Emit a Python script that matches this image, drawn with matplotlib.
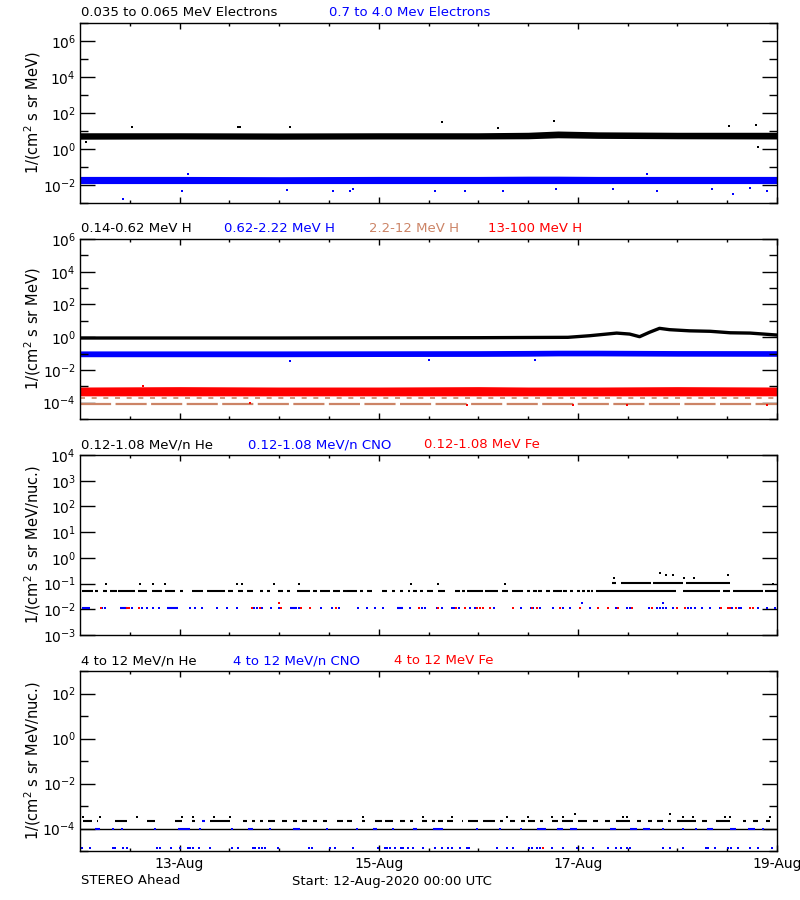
import numpy as np
import matplotlib
matplotlib.use("Agg")
import matplotlib.pyplot as plt
from matplotlib.ticker import FixedLocator, NullFormatter

# ---- data (time in days since 12-Aug-2020 00:00 UTC) ----
BLUE = "#0000FF"
RED = "#FF0000"
BROWN = "#CC8466"

# panel 1: electrons, dense bands given as lower/upper envelopes
t_band = [0, 1, 2, 3, 4, 4.5, 4.8, 5.2, 6, 7]
e_low_lo = [3.5, 3.6, 3.5, 3.6, 3.6, 3.7, 4.2, 3.9, 3.7, 3.6]
e_low_hi = [8.0, 8.0, 7.8, 8.0, 8.0, 8.5, 10.0, 9.0, 8.5, 8.5]
e_high_lo = [0.012, 0.012, 0.012, 0.012, 0.012, 0.012, 0.012, 0.012, 0.012, 0.012]
e_high_hi = [0.030, 0.030, 0.029, 0.030, 0.030, 0.031, 0.031, 0.030, 0.030, 0.030]
e_low_out_t = [0.06, 0.52, 1.59, 1.61, 2.11, 3.64, 4.20, 4.76, 6.52, 6.79, 6.81]
e_low_out_v = [2.5, 16.6, 16.6, 16.6, 16.0, 32.0, 15.0, 36.0, 19.0, 22.0, 1.3]
e_high_out_t = [0.43, 1.02, 1.08, 2.08, 2.54, 2.71, 2.74, 3.57, 3.87, 4.25, 4.78, 5.35, 5.69, 5.79, 6.35, 6.56, 6.73, 6.90]
e_high_out_v = [0.0017, 0.0047, 0.04, 0.0052, 0.0047, 0.0047, 0.0058, 0.0047, 0.0047, 0.0047,
                0.0059, 0.0063, 0.042, 0.0047, 0.0059, 0.0032, 0.0065, 0.0047]

# panel 2: protons
t_h1 = [0, 1, 2, 3, 4, 4.9, 5.12, 5.39, 5.52, 5.62, 5.72, 5.82, 5.92, 6.12, 6.33, 6.53, 6.73, 7.0]
h1 = [0.89, 0.89, 0.89, 0.91, 0.93, 0.98, 1.23, 1.78, 1.55, 1.07, 2.0, 3.47, 2.88, 2.45, 2.29, 1.86, 1.78, 1.35]
h2_lo = [0.064, 0.064, 0.064, 0.066, 0.067, 0.069, 0.072, 0.072, 0.069, 0.068]
h2_hi = [0.145, 0.145, 0.145, 0.147, 0.150, 0.155, 0.160, 0.160, 0.152, 0.150]
h2_out_t = [2.11, 3.51, 4.57]
h2_out_v = [0.036, 0.040, 0.040]
h3_upper = 2.0e-4
h3_lower = 8.5e-5
h4_lo = [2.6e-4, 2.6e-4, 2.6e-4, 2.6e-4, 2.6e-4, 2.6e-4, 2.6e-4, 2.6e-4, 2.6e-4, 2.6e-4]
h4_hi = [9.0e-4, 9.5e-4, 9.0e-4, 9.0e-4, 9.5e-4, 9.0e-4, 9.0e-4, 9.0e-4, 9.5e-4, 9.0e-4]
h4_out_t = [0.63, 1.71, 3.89, 4.95, 5.49, 6.90]
h4_out_v = [1.07e-3, 9.0e-5, 7.2e-5, 7.2e-5, 7.2e-5, 7.6e-5]

# panel 3: 0.12-1.08 MeV/n heavy ions
he_lo_level = 0.053
he_lo_runs = [(0.017, 0.134), (0.151, 0.184), (0.234, 0.268), (0.301, 0.368), (0.385, 0.552), (0.586, 0.669),
              (0.720, 0.820), (0.853, 0.954), (1.004, 1.037), (1.121, 1.238), (1.272, 1.456), (1.489, 1.540),
              (1.590, 1.640), (1.673, 1.740), (1.807, 1.841), (1.874, 1.908), (1.991, 2.042), (2.075, 2.108),
              (2.175, 2.309), (2.343, 2.376), (2.410, 2.510), (2.544, 2.610), (2.644, 2.778), (2.811, 2.845),
              (2.878, 2.928), (3.029, 3.079), (3.129, 3.163), (3.213, 3.246), (3.297, 3.313), (3.347, 3.380),
              (3.414, 3.447), (3.481, 3.547), (3.598, 3.665), (3.765, 3.815), (3.832, 3.865), (3.882, 4.049),
              (4.066, 4.200), (4.234, 4.300), (4.334, 4.451), (4.485, 4.518), (4.551, 4.585), (4.602, 4.635),
              (4.685, 4.719), (4.752, 4.836), (4.853, 4.886), (4.920, 4.953), (4.987, 5.020), (5.037, 5.070),
              (5.087, 5.120), (5.137, 5.154), (5.187, 5.990), (6.057, 6.426), (6.459, 6.526), (6.560, 6.861),
              (6.878, 6.995)]
he_lo_high_runs = [(5.338, 5.388), (5.438, 5.739), (5.756, 6.057), (6.091, 6.525)]
he_lo_high_level = 0.107
he_lo_dot_t = [0.261, 0.602, 0.730, 0.853, 1.580, 1.623, 1.948, 2.199, 3.323, 3.598, 4.267, 6.961,
               5.36, 5.82, 5.89, 5.96, 6.07, 6.17, 6.51]
he_lo_dot_v = [0.1, 0.1, 0.1, 0.1, 0.1, 0.1, 0.1, 0.1, 0.1, 0.096, 0.096, 0.1,
               0.16, 0.26, 0.21, 0.21, 0.167, 0.167, 0.21]
cno_lo_level = 0.011
cno_lo_runs = [(0.017, 0.100), (0.402, 0.469), (0.870, 0.987), (2.108, 2.175), (3.179, 3.246)]
cno_lo_dot_t = [0.218, 0.251, 0.519, 0.619, 0.669, 0.730, 0.797, 1.104, 1.155, 1.222, 1.379, 1.473, 1.573,
                1.747, 1.774, 1.824, 1.914, 1.998, 2.199, 2.416, 2.533, 2.604, 2.795, 2.885, 2.962, 3.046,
                3.313, 3.430, 3.464, 3.581, 3.631, 3.732, 3.755, 3.809, 3.916, 3.966, 4.157, 4.434, 4.525,
                4.552, 4.618, 4.752, 4.853, 4.920, 5.120, 5.388, 5.495, 5.522, 5.716, 5.790, 5.823, 5.857,
                5.884, 5.957, 6.108, 6.141, 6.175, 6.242, 6.325, 6.426, 6.549, 6.620, 6.643, 6.811, 6.901, 6.978]
cno_lo_high_t = [5.037, 5.857]
cno_lo_high_v = [0.018, 0.018]
fe_lo_dot_t = [0.207, 0.475, 0.495, 0.592, 1.730, 1.807, 2.015, 2.216, 2.309, 2.567, 3.404, 3.598, 3.772,
               3.865, 3.989, 4.016, 4.043, 4.116, 4.351, 4.535, 4.585, 4.819, 5.020, 5.204, 5.305, 5.405,
               5.546, 5.740, 5.991, 6.074, 6.442, 6.503, 6.526, 6.593, 6.727, 6.760]
fe_lo_high_t = [1.998]
fe_lo_high_v = [0.018]

# panel 4: 4-12 MeV/n heavy ions
he_hi_base = 1.0e-4
he_hi_level = 2.2e-4
he_hi_runs = [(0.033, 0.117), (0.167, 0.184), (0.351, 0.469), (0.669, 0.753), (0.954, 1.021), (1.121, 1.155),
              (1.305, 1.506), (1.640, 1.673), (1.724, 1.757), (1.807, 1.841), (1.891, 1.958), (2.025, 2.075),
              (2.142, 2.175), (2.226, 2.276), (2.343, 2.376), (2.443, 2.477), (2.577, 2.644), (2.677, 2.728),
              (2.828, 2.862), (2.962, 3.029), (3.062, 3.146), (3.213, 3.263), (3.313, 3.347), (3.430, 3.481),
              (3.531, 3.564), (3.598, 3.648), (3.681, 3.748), (3.832, 3.849), (3.899, 3.999), (4.049, 4.167),
              (4.217, 4.250), (4.317, 4.367), (4.434, 4.468), (4.501, 4.568), (4.618, 4.652), (4.736, 4.803),
              (4.836, 4.953), (5.003, 5.087), (5.154, 5.204), (5.271, 5.321), (5.388, 5.522), (5.589, 5.639),
              (5.706, 5.740), (5.790, 5.857), (5.907, 5.940), (5.991, 6.191), (6.242, 6.292), (6.392, 6.526),
              (6.660, 6.693), (6.760, 6.811), (6.894, 6.928)]
he_hi_dot_t = [0.033, 0.201, 0.569, 1.027, 1.138, 1.349, 1.506, 2.845, 3.447, 3.732, 4.284, 4.501, 4.736,
               4.853, 5.455, 5.489, 6.058, 6.158, 6.476, 6.526, 6.928, 4.970, 5.924]
he_hi_dot_v = [3.2e-4] * 21 + [4.2e-4, 4.2e-4]
cno_hi_runs = [(0.151, 0.201), (0.987, 1.104), (1.690, 1.740), (2.142, 2.209), (2.945, 2.979), (3.347, 3.380),
               (3.547, 3.648), (4.585, 4.685), (4.786, 4.853), (4.920, 4.987), (5.321, 5.388), (5.522, 5.589),
               (5.656, 5.723), (6.292, 6.359), (6.526, 6.593), (6.710, 6.777)]
cno_hi_base_dot_t = [0.335, 0.418, 0.753, 1.205, 1.523, 1.908, 2.477, 2.778, 3.146, 3.983, 4.217, 4.434,
                     5.857, 6.058, 6.191, 6.861]
cno_hi_mid_runs = [(1.222, 1.255)]
cno_hi_low_level = 1.3e-5
cno_hi_low_t = [0.017, 0.100, 0.335, 0.351, 0.428, 0.469, 0.776, 0.803, 0.910, 1.004, 1.088, 1.104, 1.138,
                1.195, 1.305, 1.523, 1.590, 1.740, 1.757, 1.801, 1.824, 1.857, 1.991, 2.303, 2.326, 2.510,
                2.560, 2.744, 2.995, 3.062, 3.079, 3.112, 3.163, 3.220, 3.246, 3.297, 3.347, 3.447, 3.564,
                3.631, 3.698, 3.732, 3.815, 3.889, 3.909, 4.183, 4.284, 4.351, 4.511, 4.535, 4.592, 4.618,
                4.736, 4.853, 4.993, 5.054, 5.154, 5.305, 5.388, 5.438, 5.489, 5.522, 5.857, 5.924, 6.058,
                6.285, 6.309, 6.376, 6.509, 6.533, 6.610, 6.727, 6.811, 6.945]
fe_hi_low_t = [4.652]

# axis text
day_ticks = [1, 3, 5, 7]
day_labels = ["13-Aug", "15-Aug", "17-Aug", "19-Aug"]

# ---- figure ----
W, H = 800, 900
fig = plt.figure(figsize=(8, 9), dpi=100)
plt.rcParams["font.family"] = "DejaVu Sans"


def px_axes(top, bottom, left=80, right=777):
    return fig.add_axes([left / W, 1 - bottom / H, (right - left) / W, (bottom - top) / H])


def setup(ax, lo, hi, major_exp, minor_exp):
    ax.set_yscale("log")
    ax.set_xlim(0, 7)
    ax.set_ylim(10.0 ** lo, 10.0 ** hi)
    ax.yaxis.set_major_locator(FixedLocator([10.0 ** e for e in major_exp]))
    ax.yaxis.set_minor_locator(FixedLocator([10.0 ** e for e in minor_exp]))
    ax.yaxis.set_minor_formatter(NullFormatter())
    ax.set_yticklabels(["10$^{%d}$" % e for e in major_exp])
    ax.xaxis.set_major_locator(FixedLocator(day_ticks))
    ax.xaxis.set_minor_locator(FixedLocator(np.arange(0.5, 7, 0.5)))
    ax.tick_params(axis="y", which="major", direction="in", length=11, width=1, right=True,
                   labelsize=10, pad=3)
    ax.tick_params(axis="y", which="minor", direction="in", length=5.5, width=1, right=True)
    ax.tick_params(axis="x", which="major", direction="in", length=4, width=1, top=True,
                   labelsize=10, pad=4)
    ax.tick_params(axis="x", which="minor", direction="in", length=2.5, width=1, top=True)
    ax.set_xticklabels([])
    for s in ax.spines.values():
        s.set_linewidth(1)


def titles(ypix, items):
    for text, xpix, col in items:
        fig.text(xpix / W, 1 - ypix / H, text, color=col, fontsize=9.5, va="center", ha="left")


def ylabel(ax, text):
    fig.text(33 / W, 0.5 * (ax.get_position().y0 + ax.get_position().y1), text,
             rotation=90, fontsize=10.5, va="center", ha="center")


def dots(ax, t, v, col):
    ax.plot(t, v, "s", color=col, ms=1.6, mew=0, ls="none")


def runs(ax, r, level, col, lw=1.5):
    r = np.array(r)
    ax.hlines([level] * len(r), r[:, 0], r[:, 1], colors=col, lw=lw)


# panel 1
ax1 = px_axes(23, 203)
setup(ax1, -3, 7, [-2, 0, 2, 4, 6], [-3, -1, 1, 3, 5, 7])
ax1.fill_between(t_band, e_low_lo, e_low_hi, color="k", lw=0)
ax1.fill_between(t_band, e_high_lo, e_high_hi, color=BLUE, lw=0)
dots(ax1, e_low_out_t, e_low_out_v, "k")
dots(ax1, e_high_out_t, e_high_out_v, BLUE)
titles(13, [("0.035 to 0.065 MeV Electrons", 81, "k"), ("0.7 to 4.0 Mev Electrons", 329, BLUE)])
ylabel(ax1, "1/(cm$^2$ s sr MeV)")

# panel 2
ax2 = px_axes(239, 419)
setup(ax2, -5, 6, [-4, -2, 0, 2, 4, 6], [-5, -3, -1, 1, 3, 5])
ax2.plot(t_h1, h1, color="k", lw=2.4)
ax2.fill_between(t_band, h2_lo, h2_hi, color=BLUE, lw=0)
dots(ax2, h2_out_t, h2_out_v, BLUE)
ax2.hlines(h3_upper, 0, 7, colors=BROWN, lw=1.2, linestyles=(0, (3, 4)))
ax2.hlines(h3_lower, 0, 7, colors=BROWN, lw=1.6, linestyles=(0, (14, 2)))
ax2.fill_between(t_band, h4_lo, h4_hi, color=RED, lw=0)
dots(ax2, h4_out_t, h4_out_v, RED)
titles(229, [("0.14-0.62 MeV H", 81, "k"), ("0.62-2.22 MeV H", 224, BLUE),
             ("2.2-12 MeV H", 369, BROWN), ("13-100 MeV H", 488, RED)])
ylabel(ax2, "1/(cm$^2$ s sr MeV)")

# panel 3
ax3 = px_axes(455, 635)
setup(ax3, -3, 4, [-3, -2, -1, 0, 1, 2, 3, 4], [])
runs(ax3, he_lo_runs, he_lo_level, "k")
runs(ax3, he_lo_high_runs, he_lo_high_level, "k")
dots(ax3, he_lo_dot_t, he_lo_dot_v, "k")
runs(ax3, cno_lo_runs, cno_lo_level, BLUE)
dots(ax3, cno_lo_dot_t, [cno_lo_level] * len(cno_lo_dot_t), BLUE)
dots(ax3, cno_lo_high_t, cno_lo_high_v, BLUE)
dots(ax3, fe_lo_dot_t, [cno_lo_level] * len(fe_lo_dot_t), RED)
dots(ax3, fe_lo_high_t, fe_lo_high_v, RED)
titles(445, [("0.12-1.08 MeV/n He", 81, "k"), ("0.12-1.08 MeV/n CNO", 248, BLUE),
             ("0.12-1.08 MeV Fe", 424, RED)])
ylabel(ax3, "1/(cm$^2$ s sr MeV/nuc.)")

# panel 4
ax4 = px_axes(671, 851)
setup(ax4, -5, 3, [-4, -2, 0, 2], [-5, -3, -1, 1, 3])
ax4.hlines(he_hi_base, 0, 7, colors="k", lw=1)
runs(ax4, he_hi_runs, he_hi_level, "k")
dots(ax4, he_hi_dot_t, he_hi_dot_v, "k")
runs(ax4, cno_hi_runs, he_hi_base, BLUE)
dots(ax4, cno_hi_base_dot_t, [he_hi_base] * len(cno_hi_base_dot_t), BLUE)
runs(ax4, cno_hi_mid_runs, he_hi_level, BLUE)
dots(ax4, cno_hi_low_t, [cno_hi_low_level] * len(cno_hi_low_t), BLUE)
dots(ax4, fe_hi_low_t, [cno_hi_low_level], RED)
ax4.set_xticklabels(day_labels)
titles(661, [("4 to 12 MeV/n He", 81, "k"), ("4 to 12 MeV/n CNO", 233, BLUE),
             ("4 to 12 MeV Fe", 394, RED)])
ylabel(ax4, "1/(cm$^2$ s sr MeV/nuc.)")

fig.text(81 / W, 1 - 881 / H, "STEREO Ahead", fontsize=9.5, va="center", ha="left")
fig.text(292 / W, 1 - 881 / H, "Start: 12-Aug-2020 00:00 UTC", fontsize=9.5, va="center", ha="left")

fig.savefig("out.png", dpi=100)
